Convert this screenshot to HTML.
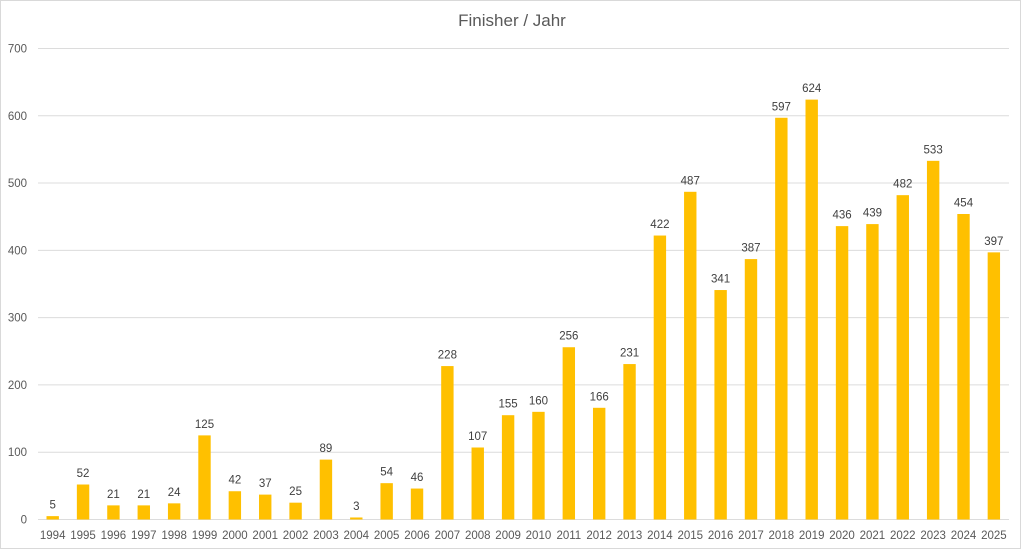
<!DOCTYPE html>
<html><head><meta charset="utf-8"><style>
body{margin:0;background:#fff;}
svg{display:block;font-family:"Liberation Sans",sans-serif;}
</style></head><body>
<svg width="1024" height="550" viewBox="0 0 1024 550">
<rect x="0.5" y="0.5" width="1020" height="548" fill="#fff" stroke="#d9d9d9"/>
<text x="512" y="26" text-anchor="middle" font-size="17" fill="#595959">Finisher / Jahr</text>
<g id="g"></g>
</svg>
<script>
const d=[5,52,21,21,24,125,42,37,25,89,3,54,46,228,107,155,160,256,166,231,422,487,341,387,597,624,436,439,482,533,454,397];
const ns="http://www.w3.org/2000/svg",g=document.getElementById('g');
const y0=519.5,s=0.6729;
function el(t,a,txt){const e=document.createElementNS(ns,t);for(const k in a)e.setAttribute(k,a[k]);if(txt!==undefined)e.textContent=txt;g.appendChild(e);}
for(let i=0;i<=7;i++){const y=y0-i*100*s;
el('line',{x1:38,x2:1009,y1:y,y2:y,stroke:'#dcdcdc','stroke-width':1});
el('text',{x:27,y:y+4,'text-anchor':'end','font-size':11.5,fill:'#595959'},String(i*100));}
d.forEach((v,i)=>{const cx=52.7+i*30.36,h=v*s;
el('rect',{x:cx-6.2,y:y0-h,width:12.4,height:h,fill:'#FFC000'});
el('text',{x:cx,y:y0-h-7.5,'text-anchor':'middle','font-size':11.5,fill:'#404040'},String(v));
el('text',{x:cx,y:539,'text-anchor':'middle','font-size':11.5,fill:'#595959'},String(1994+i));});
</script>
</body></html>
